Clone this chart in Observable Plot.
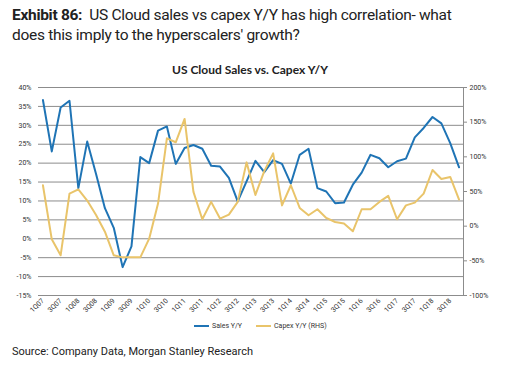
<!DOCTYPE html>
<html><head><meta charset="utf-8">
<script src="https://cdn.jsdelivr.net/npm/d3@7"></script>
<script src="https://cdn.jsdelivr.net/npm/@observablehq/plot@0.6"></script>
<style>
body{margin:0;background:#fff;}
#wrap{position:relative;width:507px;height:372px;overflow:hidden;font-family:Roboto,sans-serif;background:#fff;}
#chart{position:absolute;left:0;top:0;}
#title{position:absolute;left:12px;top:5px;font-size:15.5px;line-height:20px;color:#222;white-space:nowrap;letter-spacing:-0.3px;}
#ctitle{position:absolute;left:0;width:500px;top:62px;text-align:center;font-family:Lato,sans-serif;font-weight:bold;font-size:12px;color:#222;}
#legend{position:absolute;top:322px;left:194px;font-size:7px;color:#333;white-space:nowrap;}
#legend span.sw{display:inline-block;width:15px;height:2px;vertical-align:middle;margin-right:3px;}
#source{position:absolute;left:12px;top:345px;font-size:11px;color:#222;white-space:nowrap;}
</style></head>
<body>
<div id="wrap">
<div id="chart"></div>
<div id="title"><b>Exhibit 86:</b>&nbsp; US Cloud sales vs capex Y/Y has high correlation- what<br>does this imply to the hyperscalers' growth?</div>
<div id="ctitle">US Cloud Sales vs. Capex Y/Y</div>
<div id="legend"><span class="sw" style="background:#1f74b5"></span>Sales Y/Y<span style="display:inline-block;width:14px"></span><span class="sw" style="background:#e9c46a"></span>Capex Y/Y (RHS)</div>
<div id="source">Source: Company Data, Morgan Stanley Research</div>
</div>
<script>
const quarters = ["1Q07","2Q07","3Q07","4Q07","1Q08","2Q08","3Q08","4Q08","1Q09","2Q09","3Q09","4Q09",
"1Q10","2Q10","3Q10","4Q10","1Q11","2Q11","3Q11","4Q11","1Q12","2Q12","3Q12","4Q12",
"1Q13","2Q13","3Q13","4Q13","1Q14","2Q14","3Q14","4Q14","1Q15","2Q15","3Q15","4Q15",
"1Q16","2Q16","3Q16","4Q16","1Q17","2Q17","3Q17","4Q17","1Q18","2Q18","3Q18","4Q18"];
const salesYoY = [36.7,23.1,34.7,36.5,13.4,25.7,17.1,8.1,2.9,-7.5,-2,21.6,
20.0,28.6,29.7,19.8,24,24.8,23.8,19.3,19.1,16.1,9.9,15.2,
20.6,17.6,20.8,19.8,14.6,22.2,23.8,13.4,12.5,9.4,9.6,14.3,
17.5,22.2,21.3,18.9,20.5,21.2,26.8,29.3,32.2,30.5,25.3,18.9];
const capexYoY = [59,-19,-42,47,53,37,16,-8,-42,-45,-45,-45,
-18,32.6,126.7,121,154.7,49.5,10,35,11,16.7,35,92,
45,79.4,105,30,59,26.3,15.7,24.4,11.9,6,3.7,-7.4,
24.4,24.4,35,43.7,10,30,34,47,81,68,71,38.4];
const leftTicks = [-15,-10,-5,0,5,10,15,20,25,30,35,40];
const rightTicks = [-100,-50,0,50,100,150,200];
const xTickLabels = quarters.filter((q,i)=>i%2===0);

const L0=-15, L1=40, R0=-100, R1=200;
const toL = r => L0 + (r - R0) * (L1 - L0) / (R1 - R0);
const fromL = l => R0 + (l - L0) * (R1 - R0) / (L1 - L0);
const data = quarters.map((q,i)=>({q, sales: salesYoY[i], capex: toL(capexYoY[i])}));

const chart = Plot.plot({
  width: 507, height: 372,
  marginLeft: 38, marginRight: 44, marginTop: 87, marginBottom: 77,
  x: {type: "point", domain: quarters, padding: 0.5},
  y: {domain: [L0, L1]},
  style: {fontFamily: "Roboto, sans-serif", fontSize: "7px", color: "#333", background: "transparent", overflow: "visible"},
  marks: [
    Plot.ruleY(leftTicks, {stroke: "#8c8c8c", strokeWidth: 1}),
    Plot.frame({anchor: "right", stroke: "#8c8c8c"}),
    Plot.axisY(leftTicks, {anchor: "left", tickSize: 0, tickPadding: 7, tickFormat: d => d + "%", label: null}),
    Plot.axisY(rightTicks.map(toL), {anchor: "right", tickSize: 3, stroke: "#8c8c8c", tickPadding: 3, tickFormat: d => Math.round(fromL(d)) + "%", label: null}),
    Plot.axisX(xTickLabels, {tickRotate: -45, tickSize: 0, tickPadding: 4, label: null}),
    Plot.line(data, {x: "q", y: "sales", stroke: "#1f74b5", strokeWidth: 2}),
    Plot.line(data, {x: "q", y: "capex", stroke: "#e9c46a", strokeWidth: 2})
  ]
});
document.getElementById("chart").appendChild(chart);
</script>
</body></html>
